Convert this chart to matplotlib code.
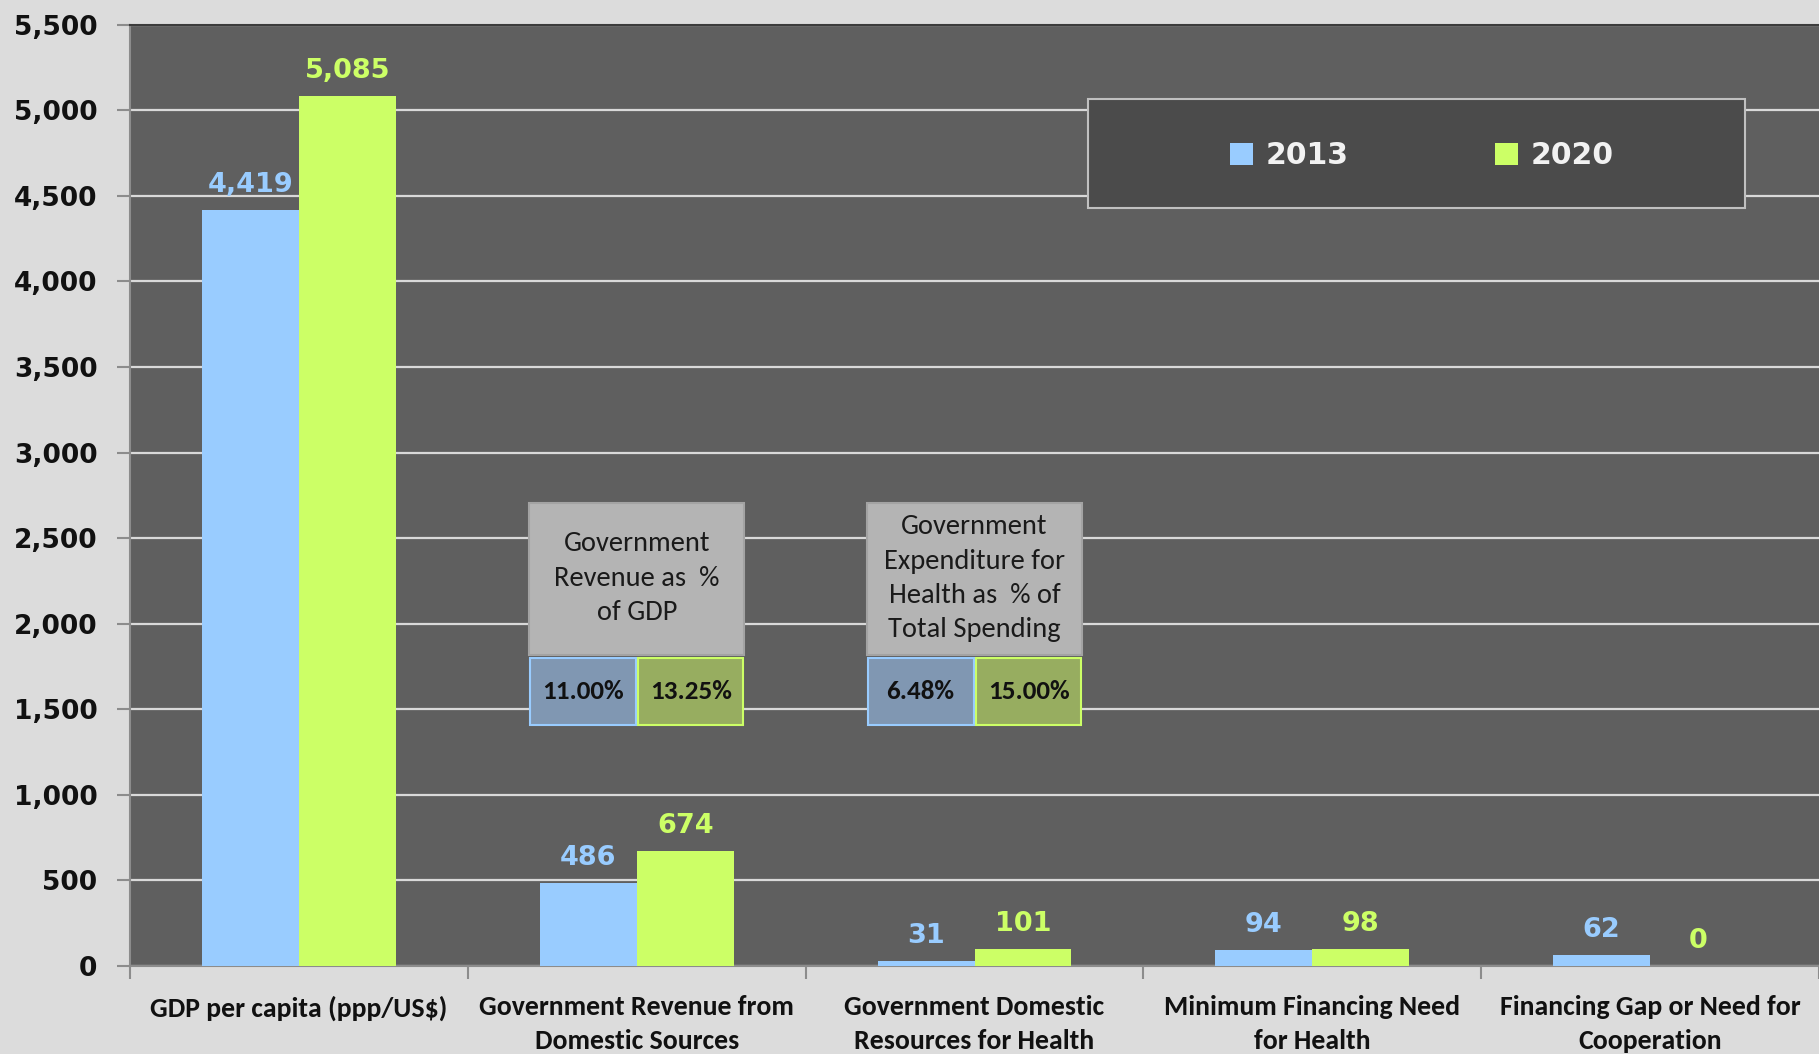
import numpy as np
import matplotlib
matplotlib.use("Agg")
import matplotlib.pyplot as plt
from matplotlib import font_manager
from matplotlib.patches import Rectangle

# data
categories = ["GDP per capita (ppp/US$)",
              "Government Revenue from\nDomestic Sources",
              "Government Domestic\nResources for Health",
              "Minimum Financing Need\nfor Health",
              "Financing Gap or Need for\nCooperation"]
v2013 = [4419, 486, 31, 94, 62]
v2020 = [5085, 674, 101, 98, 0]

pct_titles = ["Government\nRevenue as  %\nof GDP",
              "Government\nExpenditure for\nHealth as  % of\nTotal Spending"]
pct_cats = [1, 2]
pct_2013 = [11.00, 6.48]
pct_2020 = [13.25, 15.00]

# pick a Calibri-like font if there is one
have = {f.name for f in font_manager.fontManager.ttflist}
FONT = "DejaVu Sans"
for cand in ["Carlito", "Lato", "Open Sans"]:
    if cand in have:
        FONT = cand
        break
plt.rcParams["font.family"] = [FONT, "DejaVu Sans"]
NUM = "DejaVu Sans"  # numbers in the reference are wide, Verdana-like

BLUE = "#99CCFF"
GREEN = "#CCFF66"

fig = plt.figure(figsize=(18.19, 10.54), dpi=100, facecolor="#DCDCDC")
ax = fig.add_axes([0.0715, 0.0835, 0.9285, 0.893])
ax.set_facecolor("#5F5F5F")

x = np.arange(len(categories))
w = 0.287
b1 = ax.bar(x - w / 2, v2013, w, color=BLUE, label="2013", zorder=3)
b2 = ax.bar(x + w / 2, v2020, w, color=GREEN, label="2020", zorder=3)

for xs, vals, col in [(x - w / 2, v2013, BLUE), (x + w / 2, v2020, GREEN)]:
    for xi, v in zip(xs, vals):
        ax.annotate(f"{v:,}", (xi, v), xytext=(0, 18), textcoords="offset pixels",
                    ha="center", va="baseline", color=col, fontsize=19.5,
                    fontweight="bold", family=NUM, zorder=5)

ax.set_xlim(-0.5, 4.5)
ax.set_ylim(0, 5500)
ax.set_yticks(np.arange(0, 5501, 500))
ax.set_yticklabels([f"{t:,}" for t in range(0, 5501, 500)], fontsize=19,
                   fontweight="bold", color="#111111", family=NUM)
ax.yaxis.grid(True, color="#D9D9D9", lw=1.6)
ax.set_axisbelow(True)
ax.tick_params(axis="y", length=9.5, width=1.5, color="#8C8C8C", pad=14)

ax.set_xticks(x)
ax.set_xticklabels(categories, fontsize=20, fontweight="bold",
                   color="#111111", linespacing=1.48)
ax.set_xticks(np.arange(-0.5, 5, 1), minor=True)
ax.tick_params(axis="x", which="major", length=0, pad=21)
ax.tick_params(axis="x", which="minor", length=9, width=1.5, color="#8C8C8C")

for s in ["left", "bottom"]:
    ax.spines[s].set_color("#8C8C8C")
    ax.spines[s].set_linewidth(1.5)
ax.spines["top"].set_color("#3C3C3C")
ax.spines["top"].set_linewidth(1.5)
ax.spines["right"].set_visible(False)

# percentage boxes
for c, title, p13, p20 in zip(pct_cats, pct_titles, pct_2013, pct_2020):
    ax.add_patch(Rectangle((c - 0.318, 1818), 0.636, 888, fc="#B4B4B4",
                           ec="#A3A3A3", lw=1.5, zorder=4))
    ax.text(c, 2265, title, ha="center", va="center", fontsize=20.5,
            color="#1A1A1A", linespacing=1.47, zorder=5)
    ax.add_patch(Rectangle((c - 0.316, 1409), 0.313, 391, fc="#8097B2",
                           ec=BLUE, lw=1.5, zorder=4))
    ax.add_patch(Rectangle((c + 0.003, 1409), 0.313, 391, fc="#97AD60",
                           ec=GREEN, lw=1.5, zorder=4))
    ax.text(c - 0.16, 1604, f"{p13:.2f}%", ha="center", va="center",
            fontsize=19.5, fontweight="bold", color="#111111", zorder=5)
    ax.text(c + 0.16, 1604, f"{p20:.2f}%", ha="center", va="center",
            fontsize=19.5, fontweight="bold", color="#111111", zorder=5)

# legend box
ax.add_patch(Rectangle((0.567, 0.8055), 0.389, 0.116, transform=ax.transAxes,
                       fc="#4B4B4B", ec="#C0C0C0", lw=1.5, zorder=6))
leg = ax.legend(handles=[b1, b2], loc="center", bbox_to_anchor=(0.7647, 0.861),
                ncol=2, frameon=False,
                prop={"family": NUM, "weight": "bold", "size": 21.5},
                handlelength=0.77, handleheight=0.77, handletextpad=0.43,
                columnspacing=4.9)
leg.set_zorder(7)
for t in leg.get_texts():
    t.set_color("#F2F2F2")

fig.savefig("out.png", dpi=100, facecolor=fig.get_facecolor())
